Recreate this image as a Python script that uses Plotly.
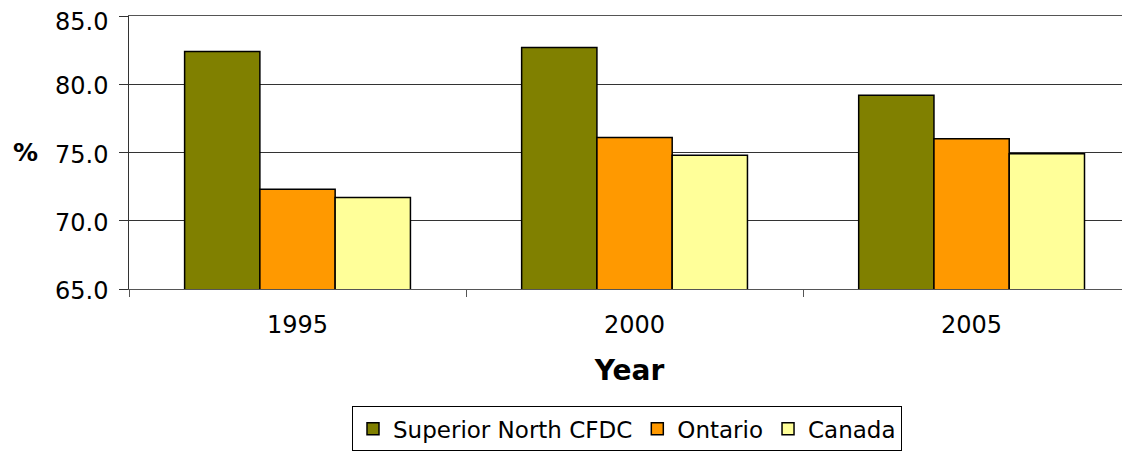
import plotly.graph_objects as go

years = ["1995", "2000", "2005"]
superior = [82.4, 82.7, 79.2]
ontario = [72.3, 76.1, 76.0]
canada = [71.7, 74.8, 74.9]
y_ticks = [65.0, 70.0, 75.0, 80.0, 85.0]
y_tick_labels = ["65.0", "70.0", "75.0", "80.0", "85.0"]

series = [
    ("Superior North CFDC", superior, "#808000"),
    ("Ontario", ontario, "#FF9900"),
    ("Canada", canada, "#FFFF99"),
]

fig = go.Figure()
for name, vals, col in series:
    fig.add_trace(go.Bar(
        x=years, y=vals, name=name,
        marker=dict(color=col, line=dict(color="black", width=1.5)),
    ))

annotations = [dict(
    text="<b>%</b>", xref="paper", yref="paper", x=-0.103, y=0.5,
    xanchor="center", yanchor="middle", showarrow=False, font=dict(size=25),
)]
top_tick = max(y_ticks)
for v, lab in zip(y_ticks, y_tick_labels):
    annotations.append(dict(
        text=lab, xref="paper", yref="y", x=0, y=v, xanchor="right",
        yanchor="middle", xshift=-19, yshift=(-6 if v == top_tick else -2),
        showarrow=False, font=dict(size=24),
    ))

fig.update_layout(
    width=1122, height=446,
    margin=dict(l=121, r=0, t=8, b=165, autoexpand=False),
    paper_bgcolor="white", plot_bgcolor="white",
    font=dict(family="DejaVu Sans", color="black", size=22),
    barmode="group", bargap=0.33, bargroupgap=0,
    showlegend=True,
    legend=dict(
        orientation="h", x=0.4975, xanchor="center", y=-0.43, yanchor="top",
        bordercolor="black", borderwidth=1, font=dict(size=23),
        itemwidth=30, tracegroupgap=0,
    ),
    xaxis=dict(
        type="category", range=[-0.5, 2.47],
        showline=True, linecolor="#555", linewidth=1, mirror=True,
        ticks="outside", tickson="boundaries", ticklen=7, tickcolor="#555",
        tickfont=dict(size=24), ticklabelstandoff=14,
        title=dict(text="<b>Year</b>", font=dict(size=28), standoff=22),
    ),
    yaxis=dict(
        range=[65, 85], tickvals=y_ticks, showticklabels=False,
        showline=True, linecolor="#333", linewidth=1,
        ticks="outside", ticklen=9, tickcolor="#333",
        showgrid=True, gridcolor="#333", gridwidth=1,
        zeroline=False,
    ),
    annotations=annotations,
)

fig.write_html("out.html")
